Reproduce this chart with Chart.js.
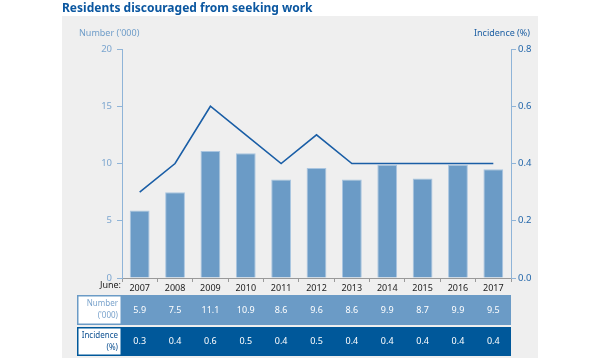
<!DOCTYPE html>
<html>
<head>
<meta charset="utf-8">
<script src="https://cdn.jsdelivr.net/npm/chart.js@4"></script>
<style>
  html,body{margin:0;padding:0;background:#fff;}
  canvas{display:block;}
</style>
</head>
<body>
<canvas id="chart" width="600" height="360"></canvas>
<script>
// ===== Data =====
const years = ["2007","2008","2009","2010","2011","2012","2013","2014","2015","2016","2017"];
const numberK = [5.9, 7.5, 11.1, 10.9, 8.6, 9.6, 8.6, 9.9, 8.7, 9.9, 9.5];
const incidence = [0.3, 0.4, 0.6, 0.5, 0.4, 0.5, 0.4, 0.4, 0.4, 0.4, 0.4];

const titleText = "Residents discouraged from seeking work";
const leftTitle = "Number ('000)";
const rightTitle = "Incidence (%)";

const FONT = "'Noto Sans', 'DejaVu Sans', sans-serif";
const barBlue = "#6b9bc6";
const darkBlue = "#00589a";
const axisBlue = "#8fb4d8";

Chart.defaults.font.family = FONT;

// ===== Panel, titles, table =====
const decorPlugin = {
  id: "decor",
  beforeDraw(chart){
    const c = chart.ctx;
    c.save();
    c.fillStyle = "#ffffff";
    c.fillRect(0,0,chart.width,chart.height);
    c.fillStyle = "#efefef";
    c.fillRect(62,16,476,342);
    c.fillStyle = "#0b57a0";
    c.font = "bold 12px " + FONT;
    c.textBaseline = "alphabetic";
    c.textAlign = "left";
    c.fillText(titleText, 62, 12);
    c.restore();
  },
  afterDraw(chart){
    const c = chart.ctx;
    const area = chart.chartArea;
    const xs = chart.scales.x;
    c.save();

    // axis titles
    c.font = "9px " + FONT;
    c.textBaseline = "middle";
    c.textAlign = "left";
    c.fillStyle = "#6f9dc9";
    c.fillText(leftTitle, 79, 33);
    c.textAlign = "right";
    c.fillStyle = "#1d5fa3";
    c.fillText(rightTitle, 530, 33);

    // June: label
    c.font = "9px " + FONT;
    c.fillStyle = "#222";
    c.fillText("June:", 121, 285);

    // table rows
    const rows = [
      {top:295, bottom:325, bg:barBlue, vals:numberK.map(v=>v.toFixed(1)), label:["Number","('000)"], labelColor:"#7aa3cc"},
      {top:327, bottom:356, bg:darkBlue, vals:incidence.map(v=>v.toFixed(1)), label:["Incidence","(%)"], labelColor:"#0b4f90"}
    ];
    rows.forEach(r=>{
      const h = r.bottom - r.top;
      c.fillStyle = r.bg;
      c.fillRect(area.left, r.top, area.right - area.left, h);
      // label cell
      c.fillStyle = "#ffffff";
      c.fillRect(77, r.top, area.left - 77, h);
      c.strokeStyle = r.bg;
      c.lineWidth = 1.5;
      c.strokeRect(77.75, r.top + 0.75, area.left - 77 - 1.5, h - 1.5);
      c.fillStyle = r.labelColor;
      c.font = "8px " + FONT;
      c.textAlign = "right";
      c.fillText(r.label[0], area.left - 4, r.top + h/2 - 6);
      c.fillText(r.label[1], area.left - 4, r.top + h/2 + 6);
      // values
      c.fillStyle = "#ffffff";
      c.font = "9px " + FONT;
      c.textAlign = "center";
      r.vals.forEach((v,i)=>{
        c.fillText(v, xs.getPixelForValue(i), r.top + h/2);
      });
    });
    c.restore();
  }
};

const ctx = document.getElementById("chart").getContext("2d");

const chart = new Chart(ctx, {
  type: "bar",
  data: {
    labels: years,
    datasets: [
      {
        type: "line",
        label: "Incidence",
        data: incidence,
        yAxisID: "y1",
        borderColor: "#1a5ea6",
        borderWidth: 1.6,
        pointRadius: 0,
        tension: 0,
        fill: false,
        order: 0
      },
      {
        type: "bar",
        label: "Number",
        data: numberK,
        yAxisID: "y",
        backgroundColor: barBlue,
        borderColor: "#a9c5e0",
        borderWidth: 1,
        barPercentage: 0.56,
        categoryPercentage: 1,
        order: 1
      }
    ]
  },
  options: {
    responsive: false,
    animation: false,
    devicePixelRatio: 1,
    layout: { padding: { left: 82, right: 49, top: 49, bottom: 62 } },
    plugins: {
      legend: { display: false },
      tooltip: { enabled: false }
    },
    scales: {
      x: {
        grid: { display: true, drawOnChartArea: false, drawTicks: true, tickLength: 4, color: "#999" },
        border: { color: "#999" },
        ticks: { color: "#222", font: { size: 9 }, padding: 1, maxRotation: 0 },
        afterFit(s){ s.height = 20; }
      },
      y: {
        position: "left",
        min: 0, max: 20,
        ticks: { stepSize: 5, color: "#7ba5cf", font: { size: 9.5 }, padding: 5 },
        grid: { drawOnChartArea: false, drawTicks: true, tickLength: 5, color: axisBlue },
        border: { color: axisBlue },
        afterFit(s){ s.width = 40; }
      },
      y1: {
        position: "right",
        min: 0, max: 0.8,
        ticks: { stepSize: 0.2, color: "#2266aa", font: { size: 9.5 }, padding: 2,
                 callback: v => Number(v).toFixed(1) },
        grid: { drawOnChartArea: false, drawTicks: true, tickLength: 5, color: axisBlue },
        border: { color: axisBlue },
        afterFit(s){ s.width = 40; }
      }
    }
  },
  plugins: [decorPlugin]
});
</script>
</body>
</html>
